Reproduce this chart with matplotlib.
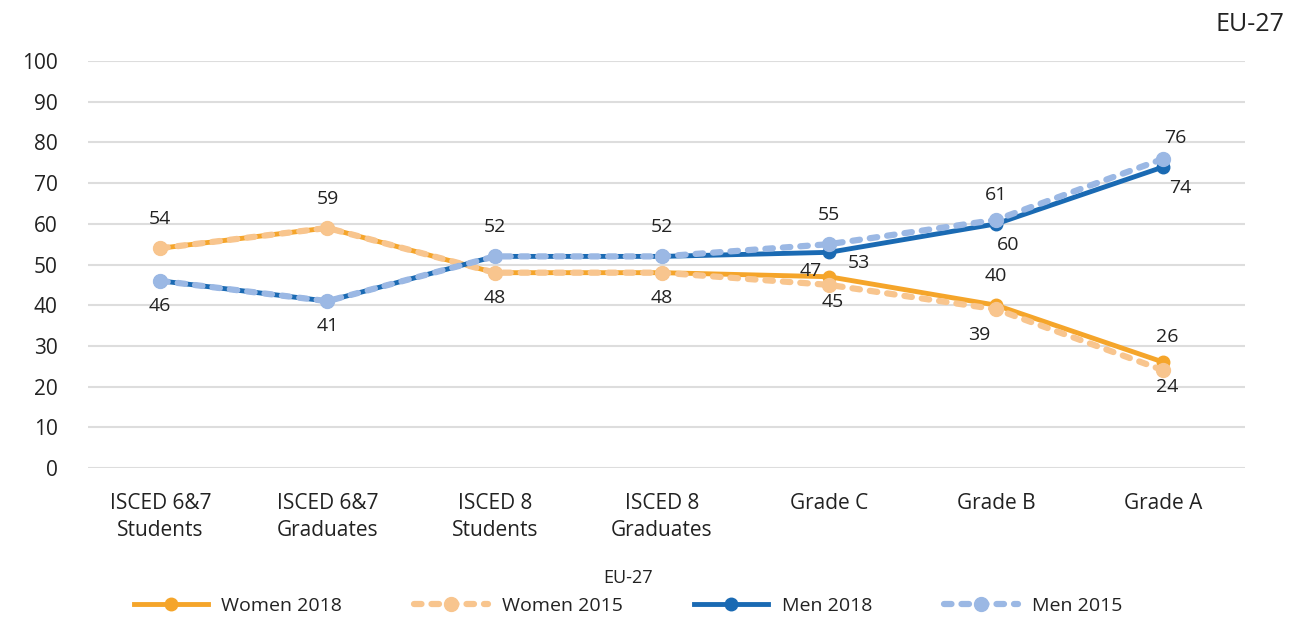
import matplotlib
matplotlib.use("Agg")
import matplotlib.pyplot as plt

plt.rcParams['font.family'] = ['Open Sans', 'DejaVu Sans']

categories = ["ISCED 6&7\nStudents", "ISCED 6&7\nGraduates", "ISCED 8\nStudents",
              "ISCED 8\nGraduates", "Grade C", "Grade B", "Grade A"]
women_2018 = [54, 59, 48, 48, 47, 40, 26]
women_2015 = [54, 59, 48, 48, 45, 39, 24]
men_2018 = [46, 41, 52, 52, 53, 60, 74]
men_2015 = [46, 41, 52, 52, 55, 61, 76]

c_w18 = '#F5A52A'
c_w15 = '#F8C58E'
c_m18 = '#1A6AB3'
c_m15 = '#9BB8E4'
txt = '#222222'

fig = plt.figure(figsize=(13, 6.17), dpi=100)
ax = fig.add_axes([0.068, 0.2415, 0.89, 0.6595])
x = list(range(len(categories)))

ax.plot(x, women_2018, color=c_w18, lw=3.5, marker='o', ms=9, label='Women 2018', zorder=3)
ax.plot(x, women_2015, color=c_w15, lw=4.5, marker='o', ms=10, dashes=(1.2, 1.6),
        dash_capstyle='round', label='Women 2015', zorder=4)
ax.plot(x, men_2018, color=c_m18, lw=3.5, marker='o', ms=9, label='Men 2018', zorder=5)
ax.plot(x, men_2015, color=c_m15, lw=4.5, marker='o', ms=10, dashes=(1.2, 1.6),
        dash_capstyle='round', label='Men 2015', zorder=6)

fs = 14
# first four categories: one label above, one below
for i in range(4):
    top = max(women_2018[i], men_2015[i])
    bot = min(women_2018[i], men_2018[i])
    ax.text(i, top + 5, str(top), ha='center', va='bottom', fontsize=fs, color=txt)
    ax.text(i, bot - 4, str(bot), ha='center', va='top', fontsize=fs, color=txt)
# grade C
ax.text(4, men_2015[4] + 5, str(men_2015[4]), ha='center', va='bottom', fontsize=fs, color=txt)
ax.text(3.89, women_2018[4] + 1.5, str(women_2018[4]), ha='center', va='center', fontsize=fs, color=txt)
ax.text(4.18, men_2018[4] - 2.5, str(men_2018[4]), ha='center', va='center', fontsize=fs, color=txt)
ax.text(4.02, women_2015[4] - 2, str(women_2015[4]), ha='center', va='top', fontsize=fs, color=txt)
# grade B
ax.text(5.0, men_2015[5] + 4, str(men_2015[5]), ha='center', va='bottom', fontsize=fs, color=txt)
ax.text(5.07, men_2018[5] - 3, str(men_2018[5]), ha='center', va='top', fontsize=fs, color=txt)
ax.text(5.0, women_2018[5] + 5, str(women_2018[5]), ha='center', va='bottom', fontsize=fs, color=txt)
ax.text(4.9, women_2015[5] - 4, str(women_2015[5]), ha='center', va='top', fontsize=fs, color=txt)
# grade A
ax.text(6.07, men_2015[6] + 3, str(men_2015[6]), ha='center', va='bottom', fontsize=fs, color=txt)
ax.text(6.1, men_2018[6] - 3, str(men_2018[6]), ha='center', va='top', fontsize=fs, color=txt)
ax.text(6.02, women_2018[6] + 4, str(women_2018[6]), ha='center', va='bottom', fontsize=fs, color=txt)
ax.text(6.02, women_2015[6] - 2, str(women_2015[6]), ha='center', va='top', fontsize=fs, color=txt)

ax.set_ylim(0, 100)
ax.set_xlim(-0.43, 6.49)
ax.set_yticks(range(0, 101, 10))
ax.set_xticks(x)
ax.set_xticklabels(categories, fontsize=15, color=txt, linespacing=1.4)
ax.tick_params(axis='y', labelsize=15, labelcolor=txt, length=0, pad=22)
ax.tick_params(axis='x', length=0, pad=18)
ax.grid(axis='y', color='#DDDDDD', lw=1.5)
ax.set_axisbelow(True)
for s in ax.spines.values():
    s.set_visible(False)

fig.text(0.988, 0.96, 'EU-27', ha='right', va='center', fontsize=18, color=txt)

leg = fig.legend(loc='lower center', bbox_to_anchor=(0.483, -0.015), ncol=4, frameon=False,
                 title='EU-27', fontsize=14, title_fontsize=13, columnspacing=3.7,
                 handlelength=3.8, handletextpad=0.7, borderaxespad=0.2)
for t in leg.get_texts():
    t.set_color(txt)
leg.get_title().set_color(txt)

fig.savefig('out.png', dpi=100, facecolor='white')
